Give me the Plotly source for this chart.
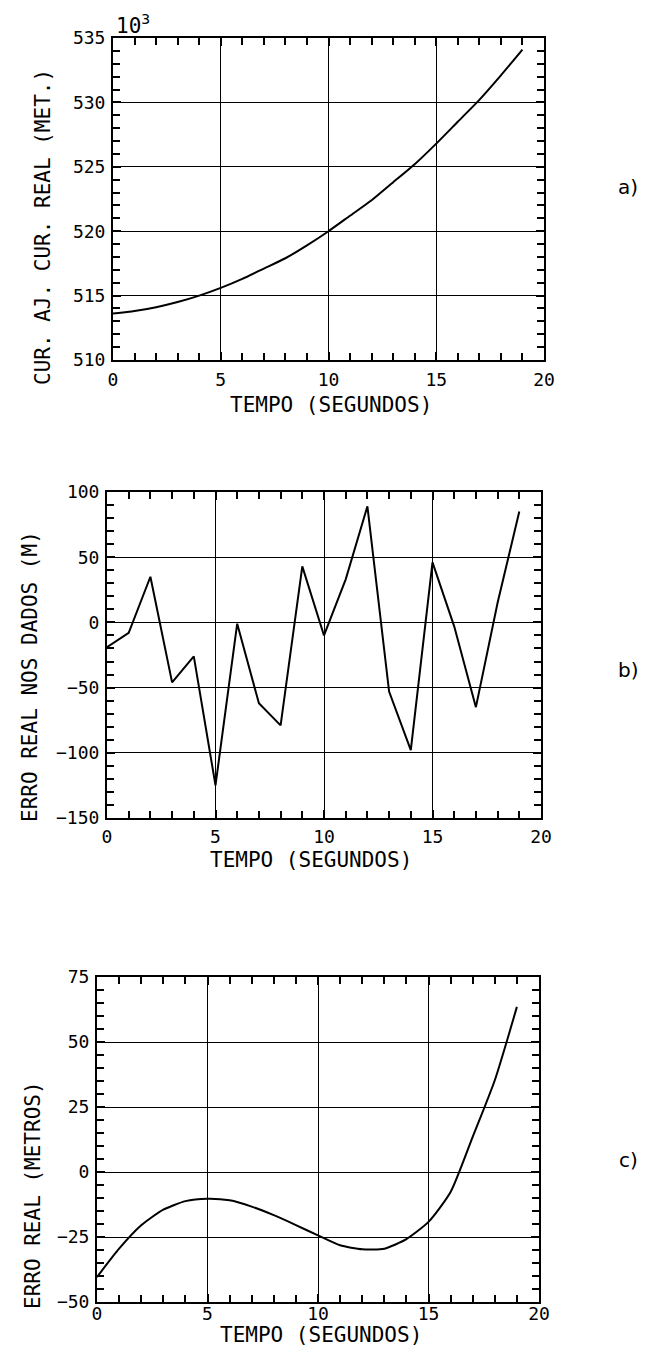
import plotly.graph_objects as go

# page body has an 8px margin, so the figure is drawn 8px smaller and offset
OFF = 8
W, H = 647 - OFF, 1363 - OFF

tempo = [0, 1, 2, 3, 4, 5, 6, 7, 8, 9, 10, 11, 12, 13, 14, 15, 16, 17, 18, 19]

cur_real = [513.6, 513.8, 514.1, 514.5, 515.0, 515.6, 516.3, 517.1, 517.9, 518.9,
            520.0, 521.2, 522.4, 523.8, 525.2, 526.8, 528.5, 530.2, 532.1, 534.1]

erro_dados = [-19, -8, 35, -46, -26, -125, -1, -62, -79, 43,
              -10, 33, 89, -53, -98, 46, -3, -65, 15, 85]

erro_real = [-40.4, -29.5, -20.5, -14.5, -11.2, -10.3, -10.9, -13.3, -16.6, -20.4,
             -24.4, -28.2, -29.7, -29.5, -25.8, -19.2, -7.7, 13.5, 35.3, 63.5]

x_ticks = [0, 5, 10, 15, 20]
x_title = "TEMPO (SEGUNDOS)"
y_titles = ["CUR. AJ. CUR. REAL (MET.)", "ERRO REAL NOS DADOS (M)", "ERRO REAL (METROS)"]
panel_labels = ["a)", "b)", "c)"]

MONO = "DejaVu Sans Mono"
SANS = "DejaVu Sans"


def px(x):
    return (x - OFF) / W


def py(y):
    return 1 - (y - OFF) / H


# pixel boxes in page coords (left, right, top, bottom)
boxes = [(113, 544, 38, 360), (107, 541, 492, 818), (97, 539, 977, 1302)]
yranges = [[510, 535], [-150, 100], [-50, 75]]
ydticks = [5, 50, 25]
yminor = [1, 10, 5]
xstandoff = [2, 1, -6]
ytitle_pos = [(43, 227), (30, 677), (33, 1195)]
xtitle_pos = [(331, 405), (311, 860), (321, 1335)]
label_pos = [(628, 187), (628, 670), (628, 1160)]

fig = go.Figure()
series = [cur_real, erro_dados, erro_real]
shapes = ["spline", "linear", "spline"]
for i, ys in enumerate(series):
    n = "" if i == 0 else str(i + 1)
    fig.add_trace(go.Scatter(x=tempo, y=ys, mode="lines",
                             line=dict(color="black", width=2, shape=shapes[i], smoothing=0.6),
                             xaxis="x" + n, yaxis="y" + n, showlegend=False))

layout = dict(width=W, height=H, autosize=False,
              margin=dict(l=0, r=0, t=0, b=0),
              paper_bgcolor="white", plot_bgcolor="white",
              showlegend=False)

annotations = []
for i, (l, r, t, b) in enumerate(boxes):
    n = "" if i == 0 else str(i + 1)
    common = dict(showgrid=True, gridcolor="black", gridwidth=1.3,
                  showline=True, linecolor="black", linewidth=2, mirror="allticks",
                  ticks="inside", ticklen=8, tickwidth=1.5, tickcolor="black",
                  zeroline=False, automargin=False,
                  tickfont=dict(family=MONO, size=18, color="black"))
    layout["xaxis" + n] = dict(common, domain=[px(l), px(r)], range=[0, 20],
                               tickvals=x_ticks, anchor="y" + n,
                               ticklabelstandoff=xstandoff[i],
                               minor=dict(dtick=1, tick0=0, ticks="inside", ticklen=7,
                                          tickwidth=1.5, tickcolor="black", showgrid=False))
    layout["yaxis" + n] = dict(common, domain=[py(b), py(t)], range=yranges[i],
                               dtick=ydticks[i], tick0=0, anchor="x" + n,
                               ticklabelstandoff=2,
                               minor=dict(dtick=yminor[i], tick0=0, ticks="inside", ticklen=7,
                                          tickwidth=1.5, tickcolor="black", showgrid=False))
    tx, ty = ytitle_pos[i]
    annotations.append(dict(text=y_titles[i], x=px(tx), y=py(ty), xref="paper", yref="paper",
                            textangle=-90, showarrow=False, xanchor="center", yanchor="middle",
                            font=dict(family=MONO, size=21, color="black")))
    xx, xy = xtitle_pos[i]
    annotations.append(dict(text=x_title, x=px(xx), y=py(xy), xref="paper", yref="paper",
                            showarrow=False, xanchor="center", yanchor="middle",
                            font=dict(family=MONO, size=21, color="black")))
    lx, ly = label_pos[i]
    annotations.append(dict(text=panel_labels[i], x=px(lx), y=py(ly), xref="paper", yref="paper",
                            showarrow=False, xanchor="center", yanchor="middle",
                            font=dict(family=SANS, size=20, color="black")))

annotations.append(dict(text="10<sup>3</sup>", x=px(114), y=py(24), xref="paper", yref="paper",
                        showarrow=False, xanchor="left", yanchor="middle",
                        font=dict(family=MONO, size=21, color="black")))

layout["annotations"] = annotations
fig.update_layout(**layout)
fig.write_html("out.html")
